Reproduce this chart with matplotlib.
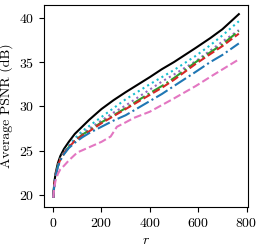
import numpy as np
import matplotlib
matplotlib.use("Agg")
import matplotlib.pyplot as plt

plt.rcParams['font.family'] = 'serif'
plt.rcParams['font.serif'] = ['cmr10', 'DejaVu Serif']
plt.rcParams['mathtext.fontset'] = 'cm'
plt.rcParams['axes.formatter.use_mathtext'] = True
plt.rcParams['font.size'] = 10

# rank r
r = [1, 3, 5, 10, 20, 30, 45, 65, 90, 120, 150, 200, 250, 300, 400, 450, 500, 590, 650, 700, 768]

# average PSNR (dB) per method
psnr_black = [19.8, 20.6, 21.3, 22.4, 23.6, 24.4, 25.2, 26.0, 26.9, 27.7, 28.5, 29.7, 30.7, 31.6, 33.3, 34.2, 35.0, 36.6, 37.7, 38.7, 40.4]
psnr_cyan = [19.7, 20.5, 21.1, 22.2, 23.3, 24.1, 24.9, 25.6, 26.4, 27.2, 27.8, 28.8, 29.8, 30.8, 32.5, 33.3, 34.1, 35.7, 36.9, 38.0, 39.6]
psnr_purple = [19.7, 20.5, 21.1, 22.2, 23.3, 24.0, 24.8, 25.5, 26.2, 26.9, 27.5, 28.4, 29.3, 30.1, 31.9, 32.8, 33.6, 35.1, 36.3, 37.3, 38.6]
psnr_green = [19.7, 20.5, 21.1, 22.2, 23.3, 24.0, 24.7, 25.4, 26.1, 26.8, 27.3, 28.2, 29.0, 29.8, 31.5, 32.3, 33.2, 35.0, 36.1, 37.0, 38.5]
psnr_red = [19.7, 20.5, 21.1, 22.2, 23.3, 24.0, 24.7, 25.4, 26.1, 26.7, 27.2, 28.1, 28.9, 29.7, 31.3, 32.1, 33.0, 34.8, 35.9, 36.8, 38.2]
psnr_blue = [19.7, 20.5, 21.0, 22.1, 23.2, 23.9, 24.6, 25.3, 25.9, 26.5, 27.0, 27.7, 28.4, 29.0, 30.6, 31.4, 32.3, 33.9, 35.0, 35.8, 37.1]

r_pink = [1, 3, 5, 10, 20, 30, 45, 65, 100, 150, 200, 238, 264, 300, 334, 400, 500, 590, 660, 768]
psnr_pink = [19.7, 20.3, 20.8, 21.6, 22.4, 22.9, 23.3, 23.9, 24.8, 25.4, 26.0, 26.6, 27.7, 28.2, 28.7, 29.4, 30.9, 32.3, 33.5, 35.3]

fig = plt.figure(figsize=(2.62, 2.49), dpi=100)
ax = fig.add_axes([0.168, 0.169, 0.779, 0.811])

lw = 1.5
ax.plot(r, psnr_black, color='black', linestyle='-', linewidth=lw)
ax.plot(r, psnr_cyan, color='tab:cyan', linestyle=':', linewidth=lw)
ax.plot(r, psnr_purple, color='tab:purple', linestyle=':', linewidth=lw)
ax.plot(r, psnr_green, color='tab:green', linestyle='-.', linewidth=lw)
ax.plot(r, psnr_red, color='tab:red', linestyle='--', linewidth=lw)
ax.plot(r, psnr_blue, color='tab:blue', linestyle='-.', linewidth=lw)
ax.plot(r_pink, psnr_pink, color='tab:pink', linestyle='--', linewidth=lw)

ax.set_xticks([0, 200, 400, 600, 800])
ax.set_yticks([20, 25, 30, 35, 40])
ax.set_xlabel('$r$')
ax.set_ylabel('Average PSNR (dB)')

fig.savefig('out.png', dpi=100)
